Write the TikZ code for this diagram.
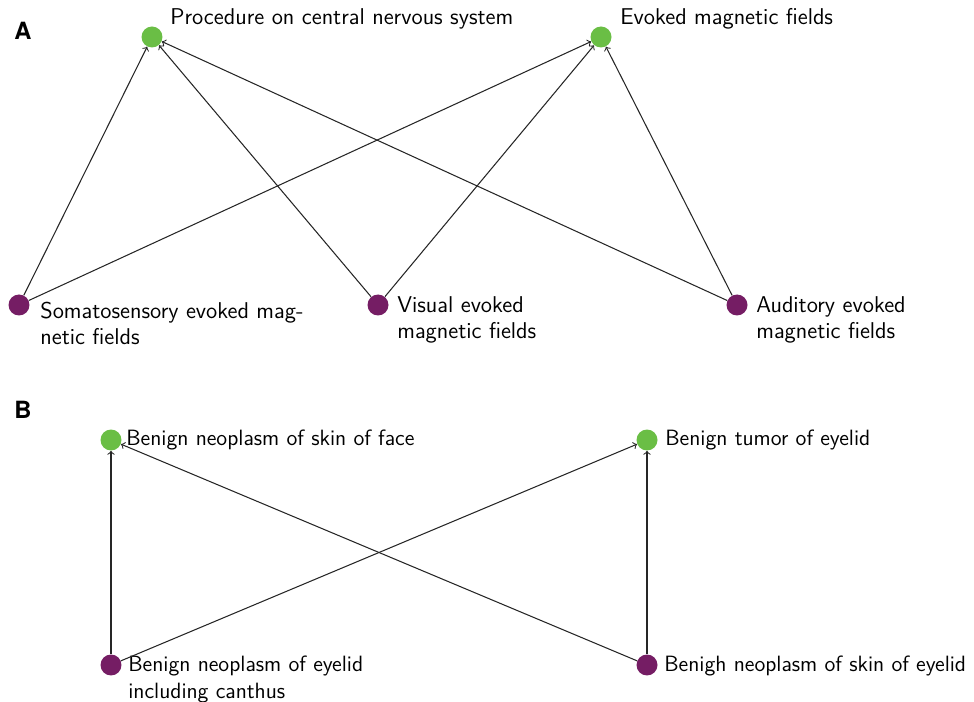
\documentclass[tikz,border=0pt]{standalone}
\usepackage{fontspec}
\newfontfamily\panelfont{TeX Gyre Heros}
\definecolor{nodegreen}{RGB}{106,190,69}
\definecolor{nodepurple}{RGB}{117,29,100}
\tikzset{
  term/.style={circle, minimum size=0.42cm, inner sep=0pt},
  goal/.style={term, fill=nodegreen},
  src/.style={term, fill=nodepurple},
  lbl/.style={anchor=base west, inner sep=0pt, align=left,
    font=\sffamily\fontsize{13}{15.3}\selectfont},
  lblb/.style={lbl, font=\sffamily\fontsize{12.6}{15.3}\selectfont},
  edge/.style={->, line width=0.6pt, black!85},
  panel/.style={anchor=base west, inner sep=0pt,
    font=\panelfont\bfseries\fontsize{13.5}{13.5}\selectfont}
}
\begin{document}
\begin{tikzpicture}[x=0.02cm, y=-0.02cm]
        \useasboundingbox (0,0) rectangle (974,702);
        % panel A
        \node[panel] (A) at (14,40) {A};
        \node[goal] (proc) at (152,37) {};
        \node[goal] (evoked) at (601,37) {};
        \node[src] (soma) at (19,305) {};
        \node[src] (visual) at (378,305) {};
        \node[src] (audit) at (737,305) {};
        \node[lbl] (procL) at (170,25) {Procedure on central nervous system};
        \node[lbl] (evokedL) at (620,25) {Evoked magnetic fields};
        \node[lbl] (somaL) at (40,345) {Somatosensory evoked mag-\\netic fields};
        \node[lbl] (visualL) at (397,339) {Visual evoked\\magnetic fields};
        \node[lbl] (auditL) at (756,339) {Auditory evoked\\magnetic fields};
        \draw[edge] (soma) -- (proc);
        \draw[edge] (soma) -- (evoked);
        \draw[edge] (visual) -- (proc);
        \draw[edge] (visual) -- (evoked);
        \draw[edge] (audit) -- (proc);
        \draw[edge] (audit) -- (evoked);
        % panel B
        \node[panel] (B) at (14,419) {B};
        \node[goal] (face) at (111,440) {};
        \node[goal] (tumor) at (647,440) {};
        \node[src] (canthus) at (111,665) {};
        \node[src] (skin) at (647,665) {};
        \node[lblb] (faceL) at (126,446) {Benign neoplasm of skin of face};
        \node[lblb] (tumorL) at (665,446) {Benign tumor of eyelid};
        \node[lblb] (canthusL) at (128,698) {Benign neoplasm of eyelid\\including canthus};
        \node[lblb] (skinL) at (664,671) {Benigh neoplasm of skin of eyelid};
        \draw[edge] (canthus) -- (face);
        \draw[edge] (canthus) -- (tumor);
        \draw[edge] (skin) -- (face);
        \draw[edge] (skin) -- (tumor);
    \end{tikzpicture}
\end{document}
